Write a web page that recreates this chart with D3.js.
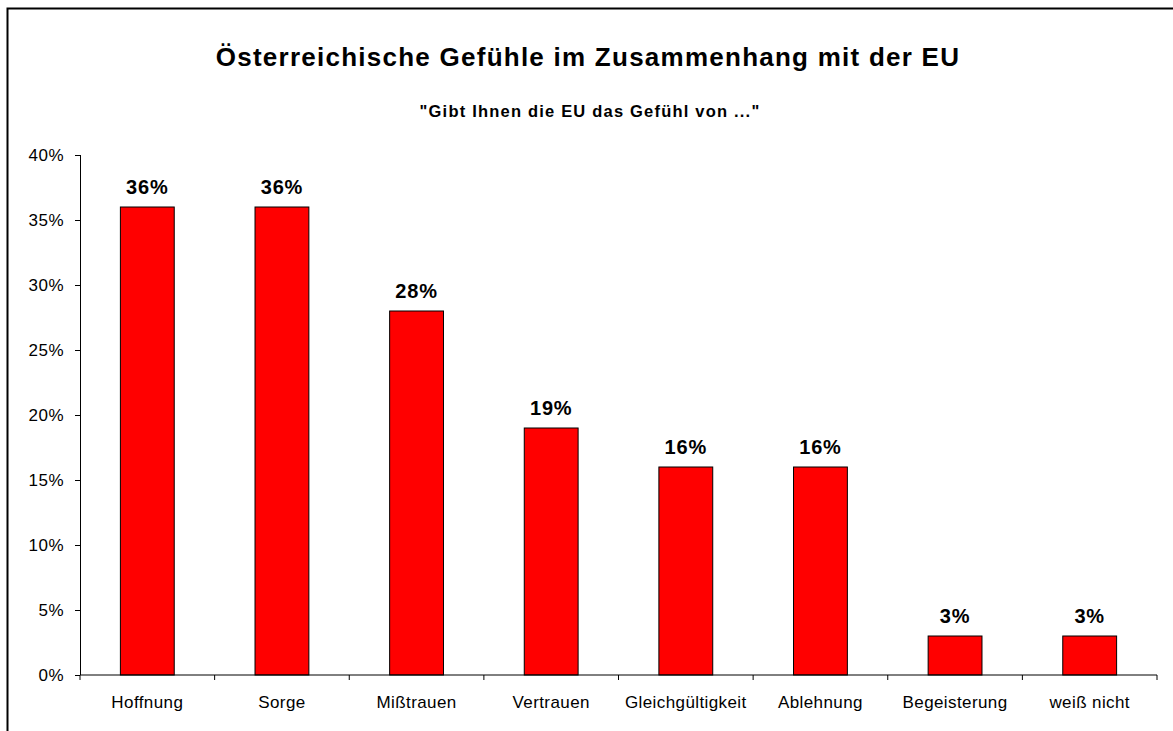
<!DOCTYPE html>
<html><head><meta charset="utf-8">
<script src="https://cdn.jsdelivr.net/npm/d3@7"></script>
<style>body{margin:0;background:#fff;} text{font-family:"Liberation Sans",Arial,sans-serif;}</style>
</head><body>
<svg id="c" width="1173" height="731"></svg>
<script>
const categories = ["Hoffnung","Sorge","Mißtrauen","Vertrauen","Gleichgültigkeit","Ablehnung","Begeisterung","weiß nicht"];
const values = [36,36,28,19,16,16,3,3];
const yTicks = [0,5,10,15,20,25,30,35,40];
const title = "Österreichische Gefühle im Zusammenhang mit der EU";
const subtitle = "\"Gibt Ihnen die EU das Gefühl von ...\"";

(function(){
const svg = d3.select("#c");
svg.append("rect").attr("x",7.5).attr("y",8.5).attr("width",1200).attr("height",800)
  .attr("fill","none").attr("stroke","#000").attr("stroke-width",2);

const pL=80, pR=1157, pT=155, pB=675;
const x = d3.scaleBand().domain(categories).range([pL,pR]).paddingInner(0.6).paddingOuter(0.3);
const xb = d3.scaleBand().domain(categories).range([pL,pR]);
const y = d3.scaleLinear().domain([0,40]).range([pB,pT]);

svg.append("text").attr("x",588).attr("y",66).attr("text-anchor","middle")
  .attr("font-size",26).attr("font-weight","bold").attr("letter-spacing",1.25).text(title);
svg.append("text").attr("x",590).attr("y",117).attr("text-anchor","middle")
  .attr("font-size",16.5).attr("font-weight","bold").attr("letter-spacing",1.2).text(subtitle);

const ya = svg.append("g").attr("transform",`translate(${pL},0)`)
  .call(d3.axisLeft(y).tickValues(yTicks).tickSize(5).tickPadding(11).tickFormat(d=>d+"%"));
ya.selectAll("text").attr("font-size",17).attr("fill","#000").attr("letter-spacing",0.5)
  .style("font-family","Liberation Sans, Arial, sans-serif");
ya.selectAll("line,path").attr("stroke","#000");
ya.select("path").attr("d",`M0.5,${pT}V${pB}`);

svg.selectAll("rect.bar").data(values).join("rect").attr("class","bar")
  .attr("x",(d,i)=>x(categories[i])).attr("width",x.bandwidth())
  .attr("y",d=>y(d)).attr("height",d=>pB-y(d))
  .attr("fill","#ff0000").attr("stroke","#000").attr("stroke-width",1);

const xa = svg.append("g").attr("transform",`translate(0,${pB})`);
xa.append("line").attr("x1",pL).attr("x2",pR).attr("stroke","#000");
const bounds = categories.map(c=>xb(c)).concat([pR]);
xa.selectAll("line.t").data(bounds).join("line").attr("class","t")
  .attr("x1",d=>d).attr("x2",d=>d).attr("y1",0).attr("y2",5).attr("stroke","#000");
xa.selectAll("text").data(categories).join("text")
  .attr("x",d=>xb(d)+xb.bandwidth()/2).attr("y",33).attr("text-anchor","middle")
  .attr("font-size",17).attr("letter-spacing",0.4).text(d=>d);

svg.selectAll("text.lbl").data(values).join("text").attr("class","lbl")
  .attr("x",(d,i)=>x(categories[i])+x.bandwidth()/2).attr("y",d=>y(d)-13)
  .attr("text-anchor","middle").attr("font-size",20).attr("font-weight","bold").attr("letter-spacing",0.8).text(d=>d+"%");
})();
</script>
</body></html>
